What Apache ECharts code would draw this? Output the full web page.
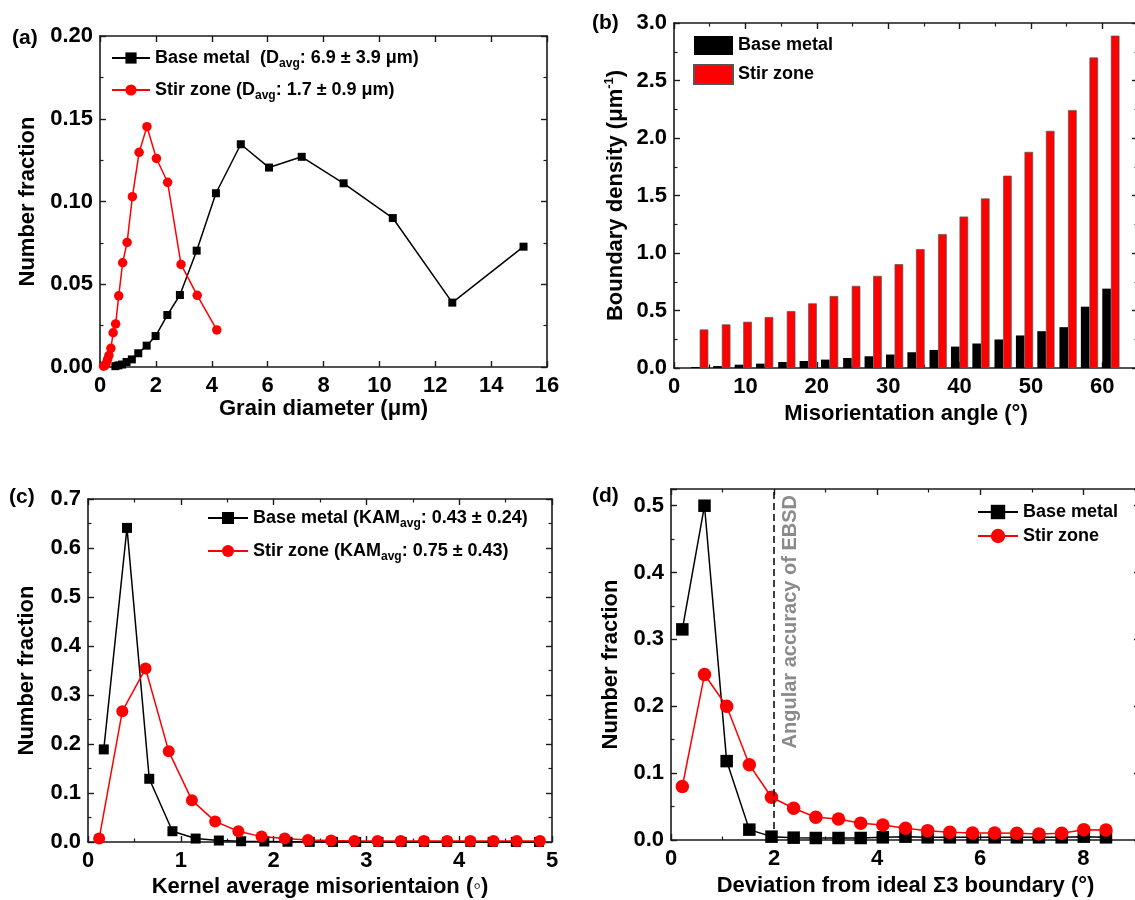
<!DOCTYPE html>
<html><head><meta charset="utf-8">
<script src="https://cdn.jsdelivr.net/npm/echarts@6/dist/echarts.min.js"></script>
<style>html,body{margin:0;padding:0;background:#fff;overflow:hidden}#c{width:1135px;height:900px}</style>
</head><body><div id="c"></div><script>
// ---------- DATA ----------
// (a) grain size distribution
const aBaseX = [0.55, 0.66, 0.79, 0.95, 1.14, 1.37, 1.67, 1.99, 2.41, 2.86, 3.46, 4.15, 5.04, 6.05, 7.22, 8.72, 10.48, 12.61, 15.16];
const aBaseY = [0.0005, 0.001, 0.0015, 0.003, 0.0046, 0.0083, 0.0129, 0.0187, 0.0314, 0.0435, 0.0703, 0.105, 0.1346, 0.1205, 0.127, 0.111, 0.090, 0.0389, 0.0727];
const aStirX = [0.13, 0.18, 0.22, 0.27, 0.32, 0.39, 0.47, 0.56, 0.67, 0.81, 0.97, 1.16, 1.40, 1.68, 2.02, 2.42, 2.90, 3.48, 4.18];
const aStirY = [0.0005, 0.001, 0.002, 0.0046, 0.007, 0.0113, 0.0207, 0.026, 0.043, 0.063, 0.0753, 0.1029, 0.1297, 0.1452, 0.126, 0.1116, 0.062, 0.0433, 0.0224];
// (b) boundary density vs misorientation angle
const bAngle = [3.6, 6.7, 9.7, 12.7, 15.8, 18.8, 21.8, 24.9, 27.9, 30.9, 33.9, 37.0, 40.0, 43.0, 46.1, 49.1, 52.1, 55.2, 58.2, 61.2];
const bBase = [0.009, 0.017, 0.029, 0.038, 0.052, 0.061, 0.073, 0.087, 0.102, 0.117, 0.137, 0.157, 0.186, 0.213, 0.248, 0.283, 0.320, 0.355, 0.533, 0.690];
const bStir = [0.335, 0.379, 0.402, 0.443, 0.495, 0.562, 0.626, 0.714, 0.801, 0.903, 1.034, 1.165, 1.317, 1.474, 1.672, 1.879, 2.062, 2.243, 2.700, 2.890];
// (c) KAM distribution
const cBaseX = [0.17, 0.42, 0.66, 0.91, 1.16, 1.41, 1.65, 1.90, 2.15, 2.39, 2.64, 2.89, 3.13, 3.38, 3.62, 3.87, 4.12, 4.36, 4.61, 4.86];
const cBaseY = [0.189, 0.641, 0.129, 0.022, 0.007, 0.003, 0.0015, 0.001, 0.0005, 0.0003, 0.0002, 0.0002, 0.0002, 0.0002, 0.0002, 0.0002, 0.0002, 0.0002, 0.0002, 0.0002];
const cStirX = [0.12, 0.37, 0.62, 0.87, 1.12, 1.37, 1.62, 1.87, 2.12, 2.37, 2.62, 2.87, 3.12, 3.37, 3.62, 3.87, 4.12, 4.37, 4.62, 4.87];
const cStirY = [0.007, 0.267, 0.354, 0.185, 0.085, 0.042, 0.022, 0.011, 0.007, 0.004, 0.003, 0.002, 0.002, 0.002, 0.002, 0.002, 0.002, 0.002, 0.002, 0.002];
// (d) deviation from ideal Sigma3
const dX = [0.22, 0.65, 1.08, 1.52, 1.95, 2.38, 2.81, 3.25, 3.68, 4.11, 4.55, 4.98, 5.41, 5.85, 6.28, 6.71, 7.14, 7.58, 8.01, 8.44];
const dBaseY = [0.315, 0.50, 0.118, 0.0155, 0.005, 0.0035, 0.003, 0.003, 0.003, 0.004, 0.005, 0.004, 0.004, 0.004, 0.004, 0.004, 0.004, 0.004, 0.005, 0.004];
const dStirY = [0.080, 0.2475, 0.200, 0.1125, 0.064, 0.0475, 0.034, 0.0315, 0.025, 0.0225, 0.0175, 0.014, 0.0115, 0.0105, 0.0105, 0.010, 0.009, 0.010, 0.0155, 0.015];
const dAccuracy = 2;

// ---------- TEXT ----------
const panelLabels = ['(a)', '(b)', '(c)', '(d)'];
const legendText = {
  a_base: '{n|Base metal  (D}{s|avg}{n|: 6.9 \u00B1 3.9 \u03BCm)}',
  a_stir: '{n|Stir zone (D}{s|avg}{n|: 1.7 \u00B1 0.9 \u03BCm)}',
  b_base: 'Base metal', b_stir: 'Stir zone',
  c_base: '{n|Base metal (KAM}{s|avg}{n|: 0.43 \u00B1 0.24)}',
  c_stir: '{n|Stir zone (KAM}{s|avg}{n|: 0.75 \u00B1 0.43)}',
  d_base: 'Base metal', d_stir: 'Stir zone'
};
const xNames = ['Grain diameter (\u03BCm)', 'Misorientation angle (\u00B0)', 'Kernel average misorientaion (\u25E6)', 'Deviation from ideal \u03A33 boundary (\u00B0)'];
const yNames = ['Number fraction', '{n|Boundary density (\u03BCm}{sup|-1}{n|)}', 'Number fraction', 'Number fraction'];
const annotation = 'Angular accuracy of EBSD';

// ---------- STYLE ----------
const FONT = "'Liberation Sans', Arial, sans-serif";
const AX = '#1a1a1a';
const RED = '#ff0000';
const zip = (xs, ys) => xs.map((x, i) => [x, ys[i]]);

function axisPair(dim, gi, o) {
  const common = {
    type: 'value', gridIndex: gi, min: o.min, max: o.max, interval: o.interval,
    axisLine: { show: true, onZero: false, lineStyle: { color: AX, width: 1.6 } },
    axisTick: { show: true, inside: true, length: 6, lineStyle: { color: AX, width: 1.4 } },
    minorTick: { show: o.minor > 1, splitNumber: o.minor || 2, length: 3.5, lineStyle: { color: AX, width: 1.2 } },
    splitLine: { show: false }, minorSplitLine: { show: false }
  };
  const main = Object.assign({}, common, {
    position: dim === 'x' ? 'bottom' : 'left',
    axisLabel: {
      show: true, margin: dim === 'x' ? 8 : 7, fontSize: 22, fontWeight: 'bold', color: '#000', fontFamily: FONT,
      formatter: v => v.toFixed(o.dec), showMaxLabel: o.showMax !== false, hideOverlap: false
    },
    name: o.name, nameLocation: 'middle', nameGap: o.nameGap,
    nameTextStyle: {
      fontSize: 22, fontWeight: 'bold', color: '#000', fontFamily: FONT,
      rich: {
        n: { fontSize: 22, fontWeight: 'bold', color: '#000', fontFamily: FONT, lineHeight: 26 },
        sup: { fontSize: 13, fontWeight: 'bold', color: '#000', fontFamily: FONT, verticalAlign: 'top', lineHeight: 14 }
      }
    }
  });
  const mirror = Object.assign({}, common, {
    position: dim === 'x' ? 'top' : 'right',
    axisLabel: { show: false }
  });
  return [main, mirror];
}

const xAxis = [].concat(
  axisPair('x', 0, { min: 0, max: 16, interval: 2, minor: 0, dec: 0, name: xNames[0], nameGap: 31 }),
  axisPair('x', 1, { min: 0, max: 65, interval: 10, minor: 2, dec: 0, name: xNames[1], nameGap: 35, showMax: false }),
  axisPair('x', 2, { min: 0, max: 5, interval: 1, minor: 2, dec: 0, name: xNames[2], nameGap: 34 }),
  axisPair('x', 3, { min: 0, max: 9.1, interval: 2, minor: 2, dec: 0, name: xNames[3], nameGap: 35, showMax: false })
);
const yAxis = [].concat(
  axisPair('y', 0, { min: 0, max: 0.2, interval: 0.05, minor: 2, dec: 2, name: yNames[0], nameGap: 61 }),
  axisPair('y', 1, { min: 0, max: 3, interval: 0.5, minor: 2, dec: 1, name: yNames[1], nameGap: 45 }),
  axisPair('y', 2, { min: 0, max: 0.7, interval: 0.1, minor: 2, dec: 1, name: yNames[2], nameGap: 50 }),
  axisPair('y', 3, { min: 0, max: 0.525, interval: 0.1, minor: 2, dec: 1, name: yNames[3], nameGap: 49, showMax: false })
);

const legendRich = {
  n: { fontSize: 18, fontWeight: 'bold', color: '#000', fontFamily: FONT, lineHeight: 24 },
  s: { fontSize: 12, fontWeight: 'bold', color: '#000', fontFamily: FONT, verticalAlign: 'bottom', lineHeight: 12 }
};
function mkLegend(names, o) {
  return Object.assign({
    data: names, orient: 'vertical', padding: 0, selectedMode: false,
    formatter: n => legendText[n],
    textStyle: { fontSize: 18, fontWeight: 'bold', color: '#000', fontFamily: FONT, lineHeight: o.lh || 24, rich: legendRich }
  }, o);
}

function lineSeries(name, gi, data, symbol, size, color) {
  return {
    type: 'line', name: name, xAxisIndex: 2 * gi, yAxisIndex: 2 * gi, data: data,
    symbol: symbol, symbolSize: size, showAllSymbol: true, clip: false,
    color: color, lineStyle: { color: color, width: 1.5 }, itemStyle: { color: color }
  };
}

const titleStyle = { fontSize: 21, fontWeight: 'bold', color: '#000', fontFamily: FONT };

const option = {
  animation: false,
  backgroundColor: '#fff',
  title: [
    { text: panelLabels[0], left: 12, top: 28, padding: 0, textStyle: titleStyle },
    { text: panelLabels[1], left: 592, top: 13, padding: 0, textStyle: titleStyle },
    { text: panelLabels[2], left: 9, top: 487, padding: 0, textStyle: titleStyle },
    { text: panelLabels[3], left: 592, top: 486, padding: 0, textStyle: titleStyle }
  ],
  grid: [
    { left: 100, top: 36, width: 447, height: 331, outerBoundsMode: 'none' },
    { left: 674, top: 23, width: 464, height: 345, outerBoundsMode: 'none' },
    { left: 88, top: 499, width: 464, height: 343, outerBoundsMode: 'none' },
    { left: 671, top: 489, width: 469, height: 351, outerBoundsMode: 'none' }
  ],
  xAxis: xAxis,
  yAxis: yAxis,
  legend: [
    mkLegend(['a_base', 'a_stir'], { left: 111, top: 46, itemWidth: 38, itemHeight: 14, itemGap: 8 }),
    mkLegend(['b_base', 'b_stir'], { left: 693, top: 36, itemWidth: 39, itemHeight: 19, itemGap: 9, icon: 'rect', lh: 19 }),
    mkLegend(['c_base', 'c_stir'], { left: 207, top: 506, itemWidth: 40, itemHeight: 15, itemGap: 9 }),
    mkLegend(['d_base', 'd_stir'], { left: 977, top: 500, itemWidth: 40, itemHeight: 18, itemGap: 0 })
  ],
  series: [
    lineSeries('a_base', 0, zip(aBaseX, aBaseY), 'rect', 8, '#000'),
    lineSeries('a_stir', 0, zip(aStirX, aStirY), 'circle', 9.5, RED),
    {
      type: 'bar', name: 'b_base', xAxisIndex: 2, yAxisIndex: 2, data: zip(bAngle, bBase),
      barWidth: 8.6, barGap: '0%', color: '#000', itemStyle: { color: '#000' }
    },
    {
      type: 'bar', name: 'b_stir', xAxisIndex: 2, yAxisIndex: 2, data: zip(bAngle, bStir),
      barWidth: 8.6, barGap: '0%', color: RED, itemStyle: { color: RED, borderColor: '#555', borderWidth: 0.7 }
    },
    lineSeries('c_base', 2, zip(cBaseX, cBaseY), 'rect', 10, '#000'),
    lineSeries('c_stir', 2, zip(cStirX, cStirY), 'circle', 12, RED),
    Object.assign(lineSeries('d_base', 3, zip(dX, dBaseY), 'rect', 12.5, '#000'), {
      markLine: {
        silent: true, symbol: ['none', 'none'], animation: false,
        data: [{ xAxis: dAccuracy }],
        lineStyle: { type: [7, 4], color: '#000', width: 1.5 },
        label: {
          show: true, position: 'insideEndBottom', formatter: annotation, distance: 6,
          color: '#8a8a8a', fontSize: 20, fontWeight: 'bold', fontFamily: FONT
        },
        emphasis: { disabled: true }
      }
    }),
    lineSeries('d_stir', 3, zip(dX, dStirY), 'circle', 13.5, RED)
  ]
};

const chart = echarts.init(document.getElementById('c'), null, { renderer: 'canvas' });
chart.setOption(option);
</script></body></html>
